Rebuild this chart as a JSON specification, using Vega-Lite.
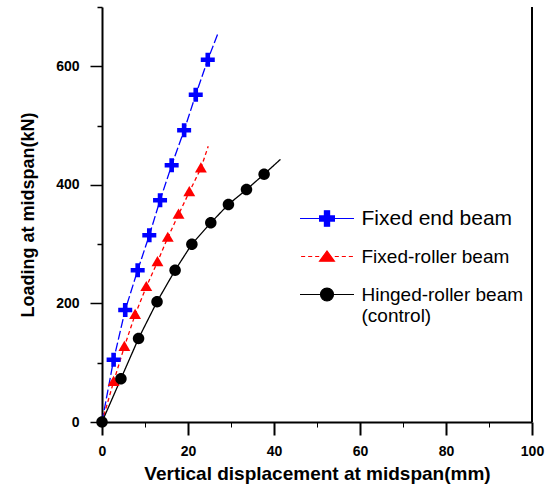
{
  "$schema": "https://vega.github.io/schema/vega-lite/v6.json",
  "width": 430,
  "height": 415,
  "autosize": "none",
  "padding": {"left": 102, "top": 7, "right": 24, "bottom": 67},
  "background": "white",
  "config": {"view": {"stroke": null}, "font": "Liberation Sans"},
  "data": {
    "values": [
      {"series": "Fixed end beam", "disp": 0, "load": 0, "marker": false},
      {"series": "Fixed end beam", "disp": 2.7, "load": 105, "marker": true},
      {"series": "Fixed end beam", "disp": 5.4, "load": 189, "marker": true},
      {"series": "Fixed end beam", "disp": 8.3, "load": 256, "marker": true},
      {"series": "Fixed end beam", "disp": 11.0, "load": 315, "marker": true},
      {"series": "Fixed end beam", "disp": 13.5, "load": 374, "marker": true},
      {"series": "Fixed end beam", "disp": 16.2, "load": 433, "marker": true},
      {"series": "Fixed end beam", "disp": 19.1, "load": 492, "marker": true},
      {"series": "Fixed end beam", "disp": 21.8, "load": 552, "marker": true},
      {"series": "Fixed end beam", "disp": 24.6, "load": 611, "marker": true},
      {"series": "Fixed end beam", "disp": 27.1, "load": 658, "marker": false},
      {"series": "Fixed-roller beam", "disp": 0, "load": 0, "marker": false},
      {"series": "Fixed-roller beam", "disp": 2.7, "load": 68, "marker": true},
      {"series": "Fixed-roller beam", "disp": 5.2, "load": 127, "marker": true},
      {"series": "Fixed-roller beam", "disp": 7.7, "load": 181, "marker": true},
      {"series": "Fixed-roller beam", "disp": 10.3, "load": 228, "marker": true},
      {"series": "Fixed-roller beam", "disp": 12.9, "load": 270, "marker": true},
      {"series": "Fixed-roller beam", "disp": 15.3, "load": 311, "marker": true},
      {"series": "Fixed-roller beam", "disp": 17.8, "load": 350, "marker": true},
      {"series": "Fixed-roller beam", "disp": 20.3, "load": 388, "marker": true},
      {"series": "Fixed-roller beam", "disp": 23.0, "load": 428, "marker": true},
      {"series": "Fixed-roller beam", "disp": 24.7, "load": 465, "marker": false},
      {"series": "Hinged-roller beam", "disp": 0, "load": 0, "marker": true},
      {"series": "Hinged-roller beam", "disp": 4.4, "load": 73, "marker": true},
      {"series": "Hinged-roller beam", "disp": 8.5, "load": 141, "marker": true},
      {"series": "Hinged-roller beam", "disp": 12.8, "load": 203, "marker": true},
      {"series": "Hinged-roller beam", "disp": 17.0, "load": 256, "marker": true},
      {"series": "Hinged-roller beam", "disp": 20.9, "load": 300, "marker": true},
      {"series": "Hinged-roller beam", "disp": 25.3, "load": 336, "marker": true},
      {"series": "Hinged-roller beam", "disp": 29.4, "load": 367, "marker": true},
      {"series": "Hinged-roller beam", "disp": 33.6, "load": 392, "marker": true},
      {"series": "Hinged-roller beam", "disp": 37.7, "load": 418, "marker": true},
      {"series": "Hinged-roller beam", "disp": 41.5, "load": 443, "marker": false}
    ]
  },
  "layer": [
    {
      "mark": {"type": "line", "strokeWidth": 1.3},
      "encoding": {
        "x": {
          "field": "disp", "type": "quantitative",
          "scale": {"domain": [0, 100], "nice": false},
          "axis": {
            "orient": "bottom",
            "title": "Vertical displacement at midspan(mm)",
            "values": [0, 20, 40, 60, 80, 100],
            "grid": false,
            "domainColor": "black", "domainWidth": 2,
            "tickColor": "black", "tickSize": 13, "tickWidth": 2,
            "labelPadding": 9,
            "labelFont": "Liberation Sans", "labelFontWeight": "bold", "labelFontSize": 14, "labelColor": "black",
            "labelFlush": false, "labelOverlap": false,
            "titleFont": "Liberation Sans", "titleFontSize": 19, "titleFontWeight": "bold", "titleColor": "black",
            "titlePadding": 6
          }
        },
        "y": {
          "field": "load", "type": "quantitative",
          "scale": {"domain": [0, 700], "nice": false},
          "axis": {
            "orient": "left",
            "title": "Loading at midspan(kN)",
            "values": [0, 200, 400, 600],
            "grid": false,
            "domainColor": "black", "domainWidth": 2,
            "tickColor": "black", "tickSize": 12, "tickWidth": 1.5,
            "labelPadding": 11,
            "labelFont": "Liberation Sans", "labelFontWeight": "bold", "labelFontSize": 14, "labelColor": "black",
            "labelFlush": false, "labelOverlap": false,
            "titleFont": "Liberation Sans", "titleFontSize": 18, "titleFontWeight": "bold", "titleColor": "black",
            "titlePadding": 18
          }
        },
        "color": {
          "field": "series", "type": "nominal",
          "scale": {"domain": ["Fixed end beam", "Fixed-roller beam", "Hinged-roller beam"], "range": ["#0000ff", "#ff0000", "#000000"]},
          "legend": null
        },
        "strokeDash": {
          "field": "series", "type": "nominal",
          "scale": {"domain": ["Fixed end beam", "Fixed-roller beam", "Hinged-roller beam"], "range": [[9, 3], [4, 3], [1, 0]]},
          "legend": null
        }
      }
    },
    {
      "transform": [{"filter": "datum.marker"}],
      "mark": {"type": "point", "filled": true, "size": 196, "strokeWidth": 0, "opacity": 1},
      "encoding": {
        "x": {"field": "disp", "type": "quantitative", "axis": null},
        "y": {"field": "load", "type": "quantitative", "axis": null},
        "color": {"field": "series", "type": "nominal", "legend": null},
        "shape": {
          "field": "series", "type": "nominal",
          "scale": {
            "domain": ["Fixed end beam", "Fixed-roller beam", "Hinged-roller beam"],
            "range": [
              "M-0.33,-1H0.33V-0.33H1V0.33H0.33V1H-0.33V0.33H-1V-0.33H-0.33Z",
              "M-0.85,0.6L0,-0.85L0.85,0.6Z",
              "M-0.82,0A0.82,0.82 0 1,0 0.82,0A0.82,0.82 0 1,0 -0.82,0Z"
            ]
          },
          "legend": null
        }
      }
    },
    {
      "transform": [{"filter": "false"}],
      "mark": {"type": "point", "filled": true},
      "encoding": {
        "x": {
          "field": "disp", "type": "quantitative",
          "axis": {
            "orient": "bottom", "title": null, "values": [10, 30, 50, 70, 90],
            "labels": false, "domain": false, "grid": false,
            "tickColor": "black", "tickSize": 5, "tickWidth": 1
          }
        },
        "y": {
          "field": "load", "type": "quantitative",
          "axis": {
            "orient": "left", "title": null, "values": [100, 300, 500, 700],
            "labels": false, "domain": false, "grid": false,
            "tickColor": "black", "tickSize": 5, "tickWidth": 1.5
          }
        },
        "color": {"field": "series", "type": "nominal", "legend": null},
        "shape": {
          "field": "series", "type": "nominal",
          "scale": {
            "domain": ["Fixed end beam", "Fixed-roller beam", "Hinged-roller beam"],
            "range": [
              "M-1.46,0H1.46M-0.14,-0.42H0.14V-0.14H0.4V0.14H0.14V0.42H-0.14V0.14H-0.4V-0.14H-0.14Z",
              "M-1.4,0H-1.18M-1.02,0H-0.8M-0.64,0H-0.42M0.42,0H0.64M0.8,0H1.02M1.18,0H1.4M-0.4,0.25L0,-0.3L0.4,0.25Z",
              "M-1.46,0H1.46M-0.35,0A0.35,0.35 0 1,0 0.35,0A0.35,0.35 0 1,0 -0.35,0Z"
            ]
          },
          "legend": {
            "orient": "none",
            "legendX": 205.5,
            "legendY": 192,
            "title": null,
            "padding": 0,
            "rowPadding": 8,
            "symbolSize": 1369,
            "symbolFillColor": {"expr": "scale('color', datum.value)"},
            "symbolStrokeColor": {"expr": "scale('color', datum.value)"},
            "symbolStrokeWidth": 1.2,
            "symbolOpacity": 1,
            "labelOffset": 15,
            "labelFont": "Liberation Sans",
            "labelFontSize": {"expr": "datum.label == 'Fixed end beam' ? 21 : 19"},
            "labelColor": "black",
            "labelLimit": 400,
            "labelExpr": "datum.label == 'Hinged-roller beam' ? ['Hinged-roller beam', '(control)'] : datum.label"
          }
        }
      }
    },
    {
      "mark": {"type": "rule", "color": "black", "strokeWidth": 1.5},
      "encoding": {
        "x": {"datum": 100, "type": "quantitative", "axis": null}
      }
    }
  ],
  "resolve": {
    "scale": {"shape": "independent"},
    "axis": {"x": "independent", "y": "independent"}
  }
}
